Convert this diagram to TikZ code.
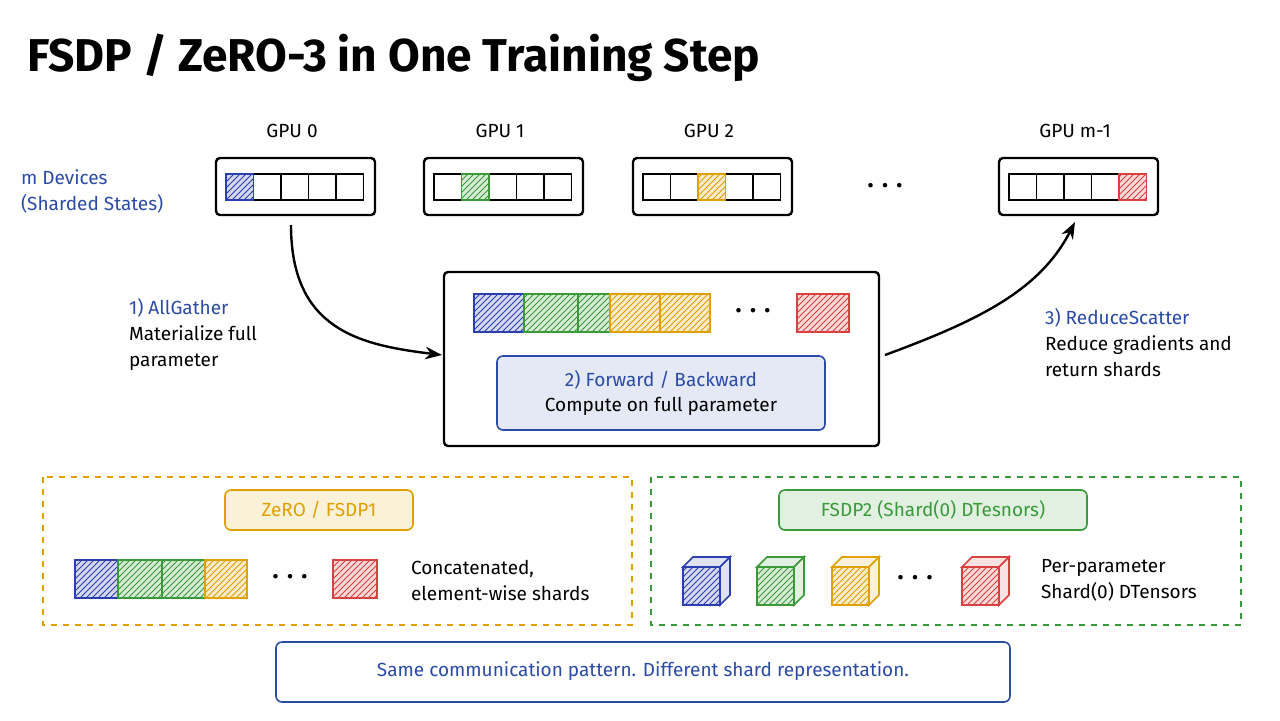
\documentclass[tikz,border=0pt]{standalone}
\usepackage{fontspec}
\setmainfont{Fira Sans}
\usetikzlibrary{arrows.meta,patterns}
\definecolor{sblue}{HTML}{2B3FB0}
\definecolor{sgreen}{HTML}{3A9A3A}
\definecolor{syellow}{HTML}{E0A000}
\definecolor{sred}{HTML}{D94040}
\definecolor{tblue}{HTML}{2A4AA8}
\newcommand{\shard}[5]{% x1,y1,x2,y2,colour
  \fill[#5!20] (#1,#2) rectangle (#3,#4);
  \fill[pattern=north east lines,pattern color=#5] (#1,#2) rectangle (#3,#4);
  \draw[#5,thick] (#1,#2) rectangle (#3,#4);}
\newcommand{\cube}[3]{% x,y,colour
  \shard{#1}{#2}{#1+37}{#2+38}{#3}
  \draw[#3,thick,fill=#3!15] (#1,#2) -- (#1+10,#2-10) -- (#1+47,#2-10) -- (#1+37,#2) -- cycle;
  \draw[#3,thick,fill=#3!15] (#1+37,#2) -- (#1+47,#2-10) -- (#1+47,#2+28) -- (#1+37,#2+38) -- cycle;}
\newcommand{\dotsrow}{\textbullet\hspace{4pt}\textbullet\hspace{4pt}\textbullet}
\begin{document}
\begin{tikzpicture}[x=0.5pt,y=-0.5pt,>=Stealth,
  gpu box/.style={draw,very thick,rounded corners=2pt},
  lbl/.style={font=\fontsize{9.5}{13}\selectfont,anchor=west,align=left},
  bluelbl/.style={lbl,text=tblue},
  txt/.style={font=\fontsize{9.5}{12}\selectfont}]
\useasboundingbox (0,0) rectangle (1280,720);
\node[anchor=west,font=\fontsize{23}{27}\selectfont\bfseries] (title) at (20,58) {FSDP / ZeRO-3 in One Training Step};
\node[bluelbl] (devs) at (14,191) {m Devices\\(Sharded States)};
% GPU boxes
\foreach \x/\n/\k/\c in {216/0/1/sblue,424/1/2/sgreen,633/2/3/syellow,999/m-1/5/sred}{
  \draw[gpu box] (\x,158) rectangle (\x+159,215);
  \node[txt] (g\n) at (\x+76,131) {GPU \n};
  \foreach \i in {1,...,5}
    \draw[thick] (\x+10+27.5*\i-27.5,174) rectangle (\x+10+27.5*\i,200);
  \shard{\x+10+27.5*\k-27.5}{174}{\x+10+27.5*\k}{200}{\c}
}
\node (gdots) at (885,188) {\dotsrow};
% centre box
\draw[gpu box] (444,272) rectangle (879,446);
\coordinate (cl) at (442,355);
\coordinate (cr) at (885,355);
\shard{474}{294}{524}{332}{sblue}
\shard{524}{294}{578}{332}{sgreen}
\shard{578}{294}{610}{332}{sgreen}
\shard{610}{294}{660}{332}{syellow}
\shard{660}{294}{710}{332}{syellow}
\shard{797}{294}{849}{332}{sred}
\node (cdots) at (753,313) {\dotsrow};
\draw[tblue,thick,fill=tblue!12,rounded corners=3pt] (497,356) rectangle (825,430);
\node[txt,text=tblue] (fb) at (661,380) {2) Forward / Backward};
\node[txt] (cp) at (661,406) {Compute on full parameter};
% arrows
\coordinate (a0) at (291,225);
\coordinate (a1) at (1075,222);
\draw[->,very thick] (a0) .. controls (291,330) and (360,345) .. (cl);
\draw[->,very thick] (cr) .. controls (980,320) and (1040,290) .. (a1);
\node[lbl] (ag) at (122,334) {\textcolor{tblue}{1) AllGather}\\Materialize full\\parameter};
\node[lbl] (rs) at (1038,343) {\textcolor{tblue}{3) ReduceScatter}\\Reduce gradients and\\return shards};
% legend panels
\draw[syellow,thick,dashed] (43,477) rectangle (632,625);
\draw[sgreen,thick,dashed] (651,477) rectangle (1241,625);
\draw[syellow,thick,fill=syellow!15,rounded corners=3pt] (225,490) rectangle (413,530);
\node[txt,text=syellow] (z1) at (319,510) {ZeRO / FSDP1};
\draw[sgreen,thick,fill=sgreen!15,rounded corners=3pt] (779,490) rectangle (1087,530);
\node[txt,text=sgreen] (f2) at (933,510) {FSDP2 (Shard(0) DTesnors)};
\shard{75}{560}{118}{598}{sblue}
\shard{118}{560}{162}{598}{sgreen}
\shard{162}{560}{205}{598}{sgreen}
\shard{205}{560}{247}{598}{syellow}
\shard{333}{560}{377}{598}{sred}
\node (zdots) at (290,579) {\dotsrow};
\node[lbl] (cc) at (404,580) {Concatenated,\\element-wise shards};
\cube{683}{567}{sblue}
\cube{757}{567}{sgreen}
\cube{832}{567}{syellow}
\cube{962}{567}{sred}
\node (fdots) at (915,580) {\dotsrow};
\node[lbl] (pp) at (1034,580) {Per-parameter\\Shard(0) DTensors};
% footer
\draw[tblue,thick,rounded corners=3pt] (276,642) rectangle (1010,702);
\node[txt,text=tblue] (ft) at (643,671) {Same communication pattern. Different shard representation.};
\end{tikzpicture}
\end{document}
